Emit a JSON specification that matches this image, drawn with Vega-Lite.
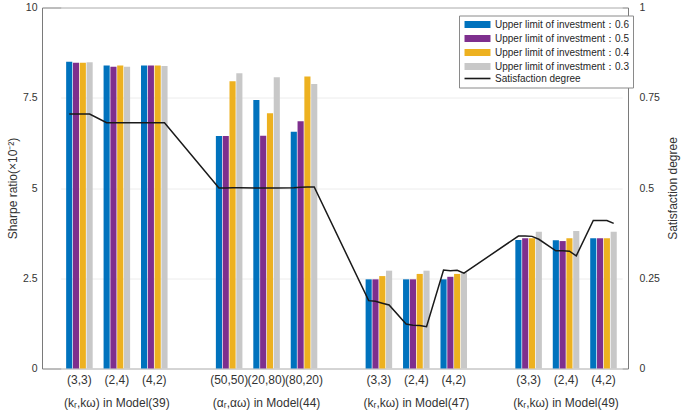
{
  "$schema": "https://vega.github.io/schema/vega-lite/v6.json",
  "width": 586,
  "height": 361,
  "autosize": "none",
  "padding": {"left": 42, "top": 7.5, "right": 57, "bottom": 45.5},
  "config": {
    "font": "Liberation Sans",
    "view": {"stroke": "#7a7a7a", "strokeWidth": 1},
    "axis": {"labelColor": "#333333", "titleColor": "#333333", "domain": false, "ticks": false, "labelFontSize": 10.5, "titleFontSize": 12, "titleFontWeight": "normal"}
  },
  "data": {
    "values": [
      {"slot": "(3,3) M39", "s": "0.6", "sharpe": 8.50, "sat": 0.705},
      {"slot": "(3,3) M39", "s": "0.5", "sharpe": 8.47, "sat": 0.705},
      {"slot": "(3,3) M39", "s": "0.4", "sharpe": 8.47, "sat": 0.705},
      {"slot": "(3,3) M39", "s": "0.3", "sharpe": 8.48, "sat": 0.705},
      {"slot": "(2,4) M39", "s": "0.6", "sharpe": 8.39, "sat": 0.681},
      {"slot": "(2,4) M39", "s": "0.5", "sharpe": 8.36, "sat": 0.681},
      {"slot": "(2,4) M39", "s": "0.4", "sharpe": 8.39, "sat": 0.681},
      {"slot": "(2,4) M39", "s": "0.3", "sharpe": 8.36, "sat": 0.681},
      {"slot": "(4,2) M39", "s": "0.6", "sharpe": 8.39, "sat": 0.681},
      {"slot": "(4,2) M39", "s": "0.5", "sharpe": 8.39, "sat": 0.681},
      {"slot": "(4,2) M39", "s": "0.4", "sharpe": 8.39, "sat": 0.681},
      {"slot": "(4,2) M39", "s": "0.3", "sharpe": 8.38, "sat": 0.681},
      {"slot": "(50,50) M44", "s": "0.6", "sharpe": 6.44, "sat": 0.500},
      {"slot": "(50,50) M44", "s": "0.5", "sharpe": 6.44, "sat": 0.500},
      {"slot": "(50,50) M44", "s": "0.4", "sharpe": 7.96, "sat": 0.501},
      {"slot": "(50,50) M44", "s": "0.3", "sharpe": 8.18, "sat": 0.501},
      {"slot": "(20,80) M44", "s": "0.6", "sharpe": 7.44, "sat": 0.500},
      {"slot": "(20,80) M44", "s": "0.5", "sharpe": 6.45, "sat": 0.500},
      {"slot": "(20,80) M44", "s": "0.4", "sharpe": 7.07, "sat": 0.500},
      {"slot": "(20,80) M44", "s": "0.3", "sharpe": 8.07, "sat": 0.500},
      {"slot": "(80,20) M44", "s": "0.6", "sharpe": 6.56, "sat": 0.501},
      {"slot": "(80,20) M44", "s": "0.5", "sharpe": 6.85, "sat": 0.502},
      {"slot": "(80,20) M44", "s": "0.4", "sharpe": 8.09, "sat": 0.503},
      {"slot": "(80,20) M44", "s": "0.3", "sharpe": 7.88, "sat": 0.503},
      {"slot": "(3,3) M47", "s": "0.6", "sharpe": 2.47, "sat": 0.188},
      {"slot": "(3,3) M47", "s": "0.5", "sharpe": 2.47, "sat": 0.186},
      {"slot": "(3,3) M47", "s": "0.4", "sharpe": 2.56, "sat": 0.181},
      {"slot": "(3,3) M47", "s": "0.3", "sharpe": 2.71, "sat": 0.176},
      {"slot": "(2,4) M47", "s": "0.6", "sharpe": 2.47, "sat": 0.123},
      {"slot": "(2,4) M47", "s": "0.5", "sharpe": 2.47, "sat": 0.120},
      {"slot": "(2,4) M47", "s": "0.4", "sharpe": 2.62, "sat": 0.119},
      {"slot": "(2,4) M47", "s": "0.3", "sharpe": 2.71, "sat": 0.116},
      {"slot": "(4,2) M47", "s": "0.6", "sharpe": 2.47, "sat": 0.273},
      {"slot": "(4,2) M47", "s": "0.5", "sharpe": 2.54, "sat": 0.271},
      {"slot": "(4,2) M47", "s": "0.4", "sharpe": 2.62, "sat": 0.272},
      {"slot": "(4,2) M47", "s": "0.3", "sharpe": 2.66, "sat": 0.264},
      {"slot": "(3,3) M49", "s": "0.6", "sharpe": 3.56, "sat": 0.367},
      {"slot": "(3,3) M49", "s": "0.5", "sharpe": 3.61, "sat": 0.367},
      {"slot": "(3,3) M49", "s": "0.4", "sharpe": 3.61, "sat": 0.366},
      {"slot": "(3,3) M49", "s": "0.3", "sharpe": 3.79, "sat": 0.358},
      {"slot": "(2,4) M49", "s": "0.6", "sharpe": 3.55, "sat": 0.326},
      {"slot": "(2,4) M49", "s": "0.5", "sharpe": 3.53, "sat": 0.326},
      {"slot": "(2,4) M49", "s": "0.4", "sharpe": 3.61, "sat": 0.325},
      {"slot": "(2,4) M49", "s": "0.3", "sharpe": 3.81, "sat": 0.312},
      {"slot": "(4,2) M49", "s": "0.6", "sharpe": 3.61, "sat": 0.410},
      {"slot": "(4,2) M49", "s": "0.5", "sharpe": 3.61, "sat": 0.410},
      {"slot": "(4,2) M49", "s": "0.4", "sharpe": 3.61, "sat": 0.410},
      {"slot": "(4,2) M49", "s": "0.3", "sharpe": 3.79, "sat": 0.402}
    ]
  },
  "layer": [
    {
      "mark": {"type": "bar"},
      "encoding": {
        "x": {
          "field": "slot", "type": "nominal",
          "scale": {"domain": ["(3,3) M39", "(2,4) M39", "(4,2) M39", "gap1", "(50,50) M44", "(20,80) M44", "(80,20) M44", "gap2", "(3,3) M47", "(2,4) M47", "(4,2) M47", "gap3", "(3,3) M49", "(2,4) M49", "(4,2) M49"], "range": [18.7, 580.2], "paddingInner": 0, "paddingOuter": 0},
          "axis": {
            "title": null,
            "values": ["(3,3) M39", "(2,4) M39", "(4,2) M39", "(50,50) M44", "(20,80) M44", "(80,20) M44", "(3,3) M47", "(2,4) M47", "(4,2) M47", "(3,3) M49", "(2,4) M49", "(4,2) M49"],
            "labelExpr": "datum.value == '(2,4) M39' ? ['(2,4)', '(kᵣ,kω) in Model(39)'] : datum.value == '(20,80) M44' ? ['(20,80)', '(αᵣ,αω) in Model(44)'] : datum.value == '(2,4) M47' ? ['(2,4)', '(kᵣ,kω) in Model(47)'] : datum.value == '(2,4) M49' ? ['(2,4)', '(kᵣ,kω) in Model(49)'] : split(datum.value, ' ')[0]",
            "labelFontSize": 12,
            "labelPadding": 6,
            "labelLineHeight": 23,
            "labelAngle": 0,
            "labelOverlap": false,
            "labelBound": false,
            "labelFlush": false,
            "bandPosition": 0.5,
            "grid": false
          }
        },
        "xOffset": {"field": "s", "type": "nominal", "scale": {"domain": ["0.6", "0.5", "0.4", "0.3"], "paddingInner": 0.1, "paddingOuter": 0.8}},
        "y": {
          "field": "sharpe", "type": "quantitative",
          "scale": {"domain": [0, 10], "nice": false},
          "axis": {"title": "Sharpe ratio(×10⁻²)", "values": [0, 2.5, 5, 7.5, 10], "format": ".2~f", "grid": true, "gridColor": "#ececec", "labelPadding": 5, "titlePadding": 3}
        },
        "color": {
          "field": "s", "type": "nominal",
          "scale": {"domain": ["0.6", "0.5", "0.4", "0.3", "Satisfaction degree"], "range": ["#0072BD", "#7E2F8E", "#EDB120", "#C8C8C8", "#1a1a1a"]},
          "legend": {
            "orient": "none", "legendX": 417, "legendY": 8, "title": null, "direction": "vertical",
            "fillColor": "white", "strokeColor": "#8a8a8a", "padding": 4,
            "symbolSize": 49, "labelFontSize": 10, "labelColor": "#262626", "rowPadding": 0, "labelOffset": 12.5, "symbolOffset": 9.5,
            "labelExpr": "datum.value == 'Satisfaction degree' ? datum.value : 'Upper limit of investment：' + datum.value",
            "encode": {
              "symbols": {
                "update": {
                  "shape": {"signal": "datum.value == 'Satisfaction degree' ? 'M-3.71,0H3.71' : 'M-3.71,-1H3.71V1H-3.71Z'"},
                  "fill": {"signal": "datum.value == 'Satisfaction degree' ? 'transparent' : scale('color', datum.value)"},
                  "stroke": {"signal": "datum.value == 'Satisfaction degree' ? '#1a1a1a' : 'transparent'"},
                  "strokeWidth": {"value": 1.6},
                  "opacity": {"value": 1}
                }
              }
            }
          }
        }
      }
    },
    {
      "mark": {"type": "line", "color": "#1a1a1a", "strokeWidth": 1.5},
      "encoding": {
        "x": {"field": "slot", "type": "nominal"},
        "xOffset": {"field": "s", "type": "nominal"},
        "y": {
          "field": "sat", "type": "quantitative",
          "scale": {"domain": [0, 1], "nice": false},
          "axis": {"orient": "right", "title": "Satisfaction degree", "values": [0, 0.25, 0.5, 0.75, 1], "format": ".2~f", "grid": false, "labelPadding": 11, "titlePadding": 20, "titleAngle": 270}
        },
        "order": {"value": null}
      }
    }
  ],
  "resolve": {"scale": {"y": "independent"}}
}
